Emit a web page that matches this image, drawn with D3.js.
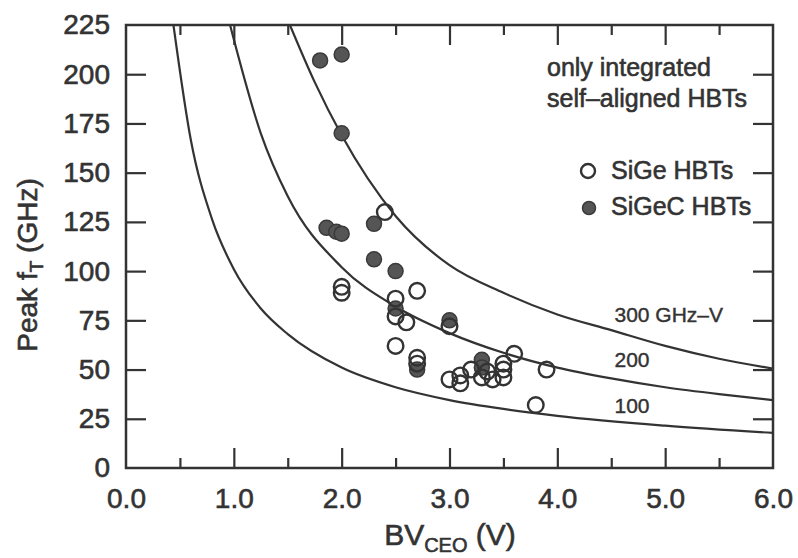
<!DOCTYPE html>
<html>
<head>
<meta charset="utf-8">
<script src="https://cdn.jsdelivr.net/npm/d3@7"></script>
<style>
  body { margin: 0; background: #fff; }
  text { font-family: "Liberation Sans", Arial, Helvetica, sans-serif; fill: #333; stroke: #333; stroke-width: 0.6px; }
</style>
</head>
<body>
<svg id="chart" width="798" height="558"></svg>
<script>
// SiGe HBTs (open circles), [BVceo (V), peak fT (GHz)]
const sigePoints = [
  [2.4, 130], [2.0, 92], [2.0, 89], [2.5, 86], [2.5, 77], [2.6, 74], [2.7, 90],
  [2.5, 62], [2.7, 56], [2.7, 53], [3.0, 72], [3.0, 45], [3.1, 47], [3.1, 43],
  [3.2, 50], [3.3, 46], [3.35, 49], [3.4, 45], [3.5, 46], [3.5, 50], [3.5, 53],
  [3.6, 58], [3.9, 50], [3.8, 32]
];

// SiGeC HBTs (filled circles)
const sigecPoints = [
  [1.8, 207], [2.0, 210], [2.0, 170], [1.86, 122], [1.95, 120], [2.0, 119],
  [2.3, 124], [2.3, 106], [2.5, 100], [2.5, 81], [2.7, 50], [3.0, 75],
  [3.3, 55], [3.3, 51]
];

// constant fT*BVceo lines
const line300 = [[1.52, 225], [1.75, 196], [2.0, 169], [2.5, 128], [3.0, 103], [3.5, 89],
  [4.0, 78], [4.5, 70], [5.0, 62], [5.5, 55.5], [6.0, 50.5]];
const line200 = [[0.965, 225], [1.25, 170], [1.5, 138], [2.0, 102], [2.5, 82], [3.0, 68.5],
  [3.5, 58.5], [4.0, 51], [4.5, 45.5], [5.0, 41], [5.5, 37.5], [6.0, 34.5]];
const line100 = [[0.44, 225], [0.6, 167], [0.8, 126], [1.0, 101], [1.25, 81], [1.5, 68],
  [2.0, 51], [2.5, 41], [3.0, 34.5], [3.5, 30], [4.0, 26.5], [5.0, 21.5], [6.0, 17.8]];
const lineLabels = ["100", "200", "300 GHz–V"];

const xTicks = [0, 1, 2, 3, 4, 5, 6];
const xMinor = [0.5, 1.5, 2.5, 3.5, 4.5, 5.5];
const yTicks = [0, 25, 50, 75, 100, 125, 150, 175, 200, 225];

const svg = d3.select("#chart");
const ink = "#333";

const x = d3.scaleLinear().domain([0, 6]).range([126, 773]);
const y = d3.scaleLinear().domain([0, 225]).range([468, 25]);

// inward ticks on all four sides
const inner = yTicks.filter(v => v > 0 && v < 225);
const bigX = xTicks.filter(v => v > 0 && v < 6);

function tickAxis(g, axis) {
  g.call(axis);
  g.select(".domain").remove();
  g.selectAll("line").attr("stroke", ink).attr("stroke-width", 2.2);
  g.selectAll("text").remove();
}

svg.append("g").attr("transform", `translate(0,${y(0)})`)
  .call(g => tickAxis(g, d3.axisBottom(x).tickValues(bigX).tickSize(-20)));
svg.append("g").attr("transform", `translate(0,${y(0)})`)
  .call(g => tickAxis(g, d3.axisBottom(x).tickValues(xMinor).tickSize(-10)));
svg.append("g").attr("transform", `translate(0,${y(225)})`)
  .call(g => tickAxis(g, d3.axisTop(x).tickValues(bigX).tickSize(-20)));
svg.append("g").attr("transform", `translate(0,${y(225)})`)
  .call(g => tickAxis(g, d3.axisTop(x).tickValues(xMinor).tickSize(-10)));
svg.append("g").attr("transform", `translate(${x(0)},0)`)
  .call(g => tickAxis(g, d3.axisLeft(y).tickValues(inner).tickSize(-20)));
svg.append("g").attr("transform", `translate(${x(6)},0)`)
  .call(g => tickAxis(g, d3.axisRight(y).tickValues(inner).tickSize(-20)));

// tick labels
const xLab = svg.append("g").attr("transform", `translate(0,${y(0)})`)
  .call(d3.axisBottom(x).tickValues(xTicks).tickSize(0).tickPadding(20).tickFormat(d3.format(".1f")));
xLab.select(".domain").remove();
xLab.selectAll("text").attr("font-size", 28).attr("fill", ink)
  .style("font-family", "'Liberation Sans', Arial, sans-serif");

const yLab = svg.append("g").attr("transform", `translate(${x(0)},0)`)
  .call(d3.axisLeft(y).tickValues(yTicks).tickSize(0).tickPadding(16));
yLab.select(".domain").remove();
yLab.selectAll("text").attr("font-size", 28).attr("fill", ink)
  .style("font-family", "'Liberation Sans', Arial, sans-serif");

// frame
svg.append("rect")
  .attr("x", x(0)).attr("y", y(225))
  .attr("width", x(6) - x(0)).attr("height", y(0) - y(225))
  .attr("fill", "none").attr("stroke", ink).attr("stroke-width", 2.5);

// constant-product lines
svg.append("clipPath").attr("id", "plotClip").append("rect")
  .attr("x", x(0)).attr("y", y(225))
  .attr("width", x(6) - x(0)).attr("height", y(0) - y(225));

const lineGen = d3.line().x(d => x(d[0])).y(d => y(d[1])).curve(d3.curveMonotoneX);
svg.append("g").attr("clip-path", "url(#plotClip)")
  .selectAll("path")
  .data([line100, line200, line300])
  .join("path")
  .attr("d", lineGen)
  .attr("fill", "none")
  .attr("stroke", ink)
  .attr("stroke-width", 2.2);

// line labels, each sitting just above its line
svg.append("g").selectAll("text")
  .data(lineLabels)
  .join("text")
  .attr("x", x(4.53))
  .attr("y", (d, i) => [413, 367, 322][i])
  .attr("font-size", 21)
  .style("stroke-width", "0.4px")
  .text(d => d);

// data points
svg.append("g").selectAll("circle")
  .data(sigecPoints)
  .join("circle")
  .attr("cx", d => x(d[0]))
  .attr("cy", d => y(d[1]))
  .attr("r", 7.5)
  .attr("fill", "#555")
  .attr("stroke", "#3a3a3a")
  .attr("stroke-width", 1.5);

svg.append("g").selectAll("circle")
  .data(sigePoints)
  .join("circle")
  .attr("cx", d => x(d[0]))
  .attr("cy", d => y(d[1]))
  .attr("r", 7.8)
  .attr("fill", "none")
  .attr("stroke", ink)
  .attr("stroke-width", 2.4);

// annotation and legend
svg.append("text").attr("x", 547).attr("y", 76).attr("font-size", 25).text("only integrated");
svg.append("text").attr("x", 547).attr("y", 107).attr("font-size", 25).text("self–aligned HBTs");

svg.append("circle").attr("cx", 588).attr("cy", 171).attr("r", 7)
  .attr("fill", "none").attr("stroke", ink).attr("stroke-width", 2.4);
svg.append("text").attr("x", 611).attr("y", 179).attr("font-size", 25).text("SiGe HBTs");
svg.append("circle").attr("cx", 589).attr("cy", 208).attr("r", 6.5)
  .attr("fill", "#555").attr("stroke", "#3a3a3a").attr("stroke-width", 1.5);
svg.append("text").attr("x", 611).attr("y", 215).attr("font-size", 25).text("SiGeC HBTs");

// axis titles
const xt = svg.append("text").attr("x", 450).attr("y", 545)
  .attr("text-anchor", "middle").attr("font-size", 30);
xt.append("tspan").text("BV");
xt.append("tspan").attr("font-size", 20).attr("dy", 7).text("CEO");
xt.append("tspan").attr("dy", -7).text(" (V)");

const yt = svg.append("text")
  .attr("transform", "translate(37,265) rotate(-90)")
  .attr("text-anchor", "middle").attr("font-size", 28);
yt.append("tspan").text("Peak f");
yt.append("tspan").attr("font-size", 19).attr("dy", 6).text("T");
yt.append("tspan").attr("dy", -6).text(" (GHz)");
</script>
</body>
</html>
